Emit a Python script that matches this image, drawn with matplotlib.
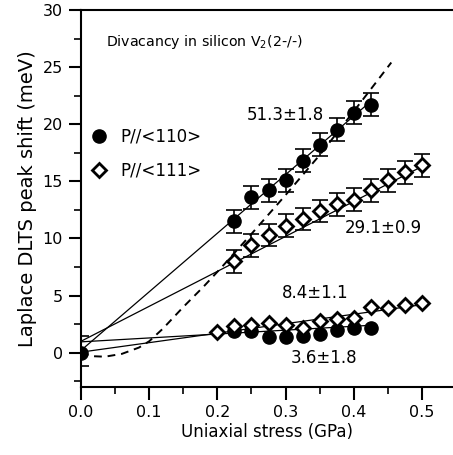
import matplotlib
matplotlib.use('Agg')
import matplotlib.pyplot as plt
import numpy as np

# P//<110>, upper branch (with error bars)
x110_up = [0.225, 0.25, 0.275, 0.3, 0.325, 0.35, 0.375, 0.4, 0.425]
y110_up = [11.5, 13.6, 14.2, 15.1, 16.8, 18.2, 19.5, 21.0, 21.7]
# P//<111>, upper branch (with error bars)
x111_up = [0.225, 0.25, 0.275, 0.3, 0.325, 0.35, 0.375, 0.4, 0.425, 0.45, 0.475, 0.5]
y111_up = [8.0, 9.4, 10.3, 11.1, 11.7, 12.4, 13.0, 13.4, 14.2, 15.1, 15.8, 16.4]
err_up = 1.0
# lower branches
x110_lo = [0.225, 0.25, 0.275, 0.3, 0.325, 0.35, 0.375, 0.4, 0.425]
y110_lo = [1.9, 1.9, 1.35, 1.35, 1.45, 1.65, 2.0, 2.2, 2.2]
x111_lo = [0.2, 0.225, 0.25, 0.275, 0.3, 0.325, 0.35, 0.375, 0.4, 0.425, 0.45, 0.475, 0.5]
y111_lo = [1.8, 2.3, 2.45, 2.6, 2.45, 2.15, 2.8, 2.95, 3.05, 4.0, 3.9, 4.15, 4.35]
# zero-stress point
x0, y0 = [0.0], [0.0]
err0 = [[1.2], [1.5]]

# linear fits (end points)
fit110_up = ([0.0, 0.425], [0.2, 22.0])
fit111_up = ([0.0, 0.5], [1.0, 16.3])
fit110_lo = ([0.0, 0.425], [0.95, 2.4])
fit111_lo = ([0.0, 0.5], [0.05, 4.2])
# dashed curve
dash_x = [0.0, 0.015, 0.035, 0.06, 0.085, 0.1, 0.12, 0.15, 0.18, 0.205, 0.25, 0.3, 0.35, 0.41, 0.455]
dash_y = [0.0, -0.3, -0.35, -0.1, 0.45, 1.0, 2.1, 4.0, 5.8, 7.4, 10.4, 13.8, 17.3, 21.9, 25.4]

slopes = ['51.3±1.8', '29.1±0.9', '8.4±1.1', '3.6±1.8']

plt.rcParams['font.family'] = 'DejaVu Sans'
fig = plt.figure(figsize=(4.53, 4.55), dpi=100)
ax = fig.add_axes([0.1788, 0.1495, 0.8212, 0.8286])

lw = 0.9
for fx, fy in [fit110_up, fit111_up, fit110_lo, fit111_lo]:
    ax.plot(fx, fy, color='black', lw=lw, zorder=2)
ax.plot(dash_x, dash_y, color='black', lw=1.4, ls=(0, (4, 3)), zorder=2)

ax.errorbar(x110_up, y110_up, yerr=err_up, fmt='none', ecolor='black', elinewidth=1.2, capsize=6, capthick=1.2, zorder=3)
ax.errorbar(x111_up, y111_up, yerr=err_up, fmt='none', ecolor='black', elinewidth=1.2, capsize=6, capthick=1.2, zorder=3)
ax.errorbar(x0, y0, yerr=err0, fmt='none', ecolor='black', elinewidth=1.2, capsize=6, capthick=1.2, zorder=3)

h110, = ax.plot(x110_up, y110_up, 'o', ms=9.5, color='black', zorder=4, label='P//<110>')
ax.plot(x110_lo, y110_lo, 'o', ms=9.5, color='black', zorder=4)
ax.plot(x0, y0, 'o', ms=9.5, color='black', zorder=4)
h111, = ax.plot(x111_up, y111_up, 'D', ms=7.5, mfc='white', mec='black', mew=2, zorder=5, label='P//<111>')
ax.plot(x111_lo, y111_lo, 'D', ms=7.5, mfc='white', mec='black', mew=2, zorder=5)

fs = 12
ax.text(0.036, 27.2, 'Divacancy in silicon V$_2$(2-/-)', fontsize=10.2, va='center')
ax.text(0.30, 20.8, slopes[0], fontsize=fs, ha='center', va='center')
ax.text(0.443, 10.9, slopes[1], fontsize=fs, ha='center', va='center')
ax.text(0.343, 5.2, slopes[2], fontsize=fs, ha='center', va='center')
ax.text(0.357, -0.5, slopes[3], fontsize=fs, ha='center', va='center')

ax.legend(handles=[h110, h111], loc='upper left', bbox_to_anchor=(0.034, 0.688),
          frameon=False, fontsize=fs, handlelength=0.7, handletextpad=0.9,
          labelspacing=0.95, borderpad=0, borderaxespad=0)

ax.set_xlim(0, 0.5455)
ax.set_ylim(-3, 30)
ax.set_xticks(np.arange(0, 0.51, 0.1))
ax.set_xticks(np.arange(0, 0.51, 0.05), minor=True)
ax.set_yticks(np.arange(0, 31, 5))
ax.set_yticks(np.arange(-2.5, 30.1, 2.5), minor=True)
ax.xaxis.set_major_formatter(matplotlib.ticker.FormatStrFormatter('%.1f'))
ax.tick_params(which='major', direction='out', length=9, width=1.5, labelsize=11.5, pad=4)
ax.tick_params(which='minor', direction='out', length=5, width=1.2)
ax.spines['right'].set_visible(False)
for s in ['left', 'bottom', 'top']:
    ax.spines[s].set_linewidth(1.5)

ax.set_xlabel('Uniaxial stress (GPa)', fontsize=12, labelpad=2)
ax.set_ylabel('Laplace DLTS peak shift (meV)', fontsize=14, labelpad=4)

fig.savefig('out.png', dpi=100)
